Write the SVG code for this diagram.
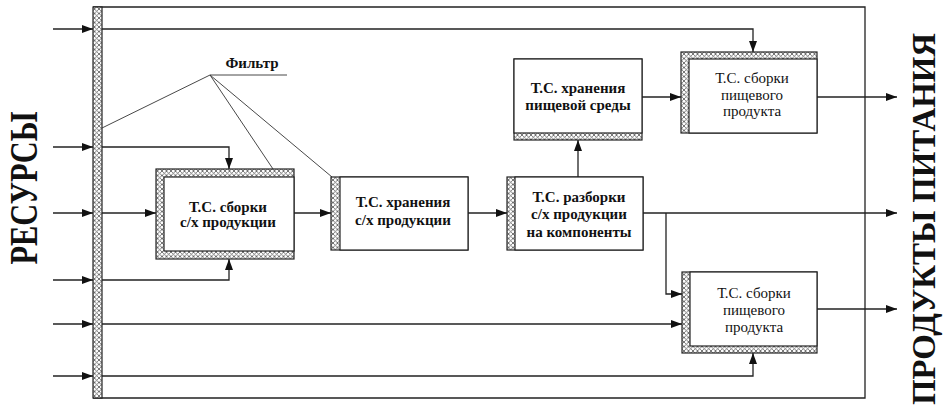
<svg xmlns="http://www.w3.org/2000/svg" width="946" height="417" viewBox="0 0 946 417">
<style>
.ln{fill:none;stroke:#222;stroke-width:1.3}
.fl{fill:none;stroke:#333;stroke-width:0.9}
.hb{fill:url(#hatch);stroke:#222;stroke-width:1.2}
.in{fill:#fff;stroke:#222;stroke-width:1.2}
.t{font-family:"Liberation Serif","Times New Roman",serif;font-size:15px;text-anchor:middle;fill:#111}
.b{font-weight:bold}
.big{font-family:"Liberation Serif","Times New Roman",serif;font-weight:bold;fill:#111;text-anchor:middle}
</style>
<defs>
<pattern id="hatch" width="4.5" height="4.5" patternUnits="userSpaceOnUse">
<rect width="4.5" height="4.5" fill="#fff"/>
<path d="M0,0 L4.5,4.5 M4.5,0 L0,4.5" stroke="#555" stroke-width="0.8"/>
</pattern>
<marker id="ar" markerWidth="12" markerHeight="8" refX="11" refY="4" orient="auto" markerUnits="userSpaceOnUse">
<path d="M0,0 L11,4 L0,8 Z" fill="#111"/>
</marker>
</defs>
<rect width="946" height="417" fill="#fff"/>

<g id="frame">
<path class="ln" d="M93,7 H865 V398 H93"/>
<rect class="hb" x="93" y="7" width="9" height="391"/>
</g>

<g id="connectors">
<path class="ln" d="M53,29 H93" marker-end="url(#ar)"/>
<path class="ln" d="M53,147 H93" marker-end="url(#ar)"/>
<path class="ln" d="M53,213 H93" marker-end="url(#ar)"/>
<path class="ln" d="M53,280 H93" marker-end="url(#ar)"/>
<path class="ln" d="M53,324 H93" marker-end="url(#ar)"/>
<path class="ln" d="M53,376 H93" marker-end="url(#ar)"/>
<path class="ln" d="M102,29 H753 V52" marker-end="url(#ar)"/>
<path class="ln" d="M102,147 H229 V169" marker-end="url(#ar)"/>
<path class="ln" d="M102,213 H156" marker-end="url(#ar)"/>
<path class="ln" d="M102,280 H229 V259" marker-end="url(#ar)"/>
<path class="ln" d="M102,324 H682" marker-end="url(#ar)"/>
<path class="ln" d="M102,376 H753 V353" marker-end="url(#ar)"/>
<path class="ln" d="M294,213 H331" marker-end="url(#ar)"/>
<path class="ln" d="M468,213 H507" marker-end="url(#ar)"/>
<path class="ln" d="M578,177 V140" marker-end="url(#ar)"/>
<path class="ln" d="M642,97 H681" marker-end="url(#ar)"/>
<path class="ln" d="M817,97 H897" marker-end="url(#ar)"/>
<path class="ln" d="M643,213 H897" marker-end="url(#ar)"/>
<path class="ln" d="M666,213 V294 H682" marker-end="url(#ar)"/>
<path class="ln" d="M817,309 H897" marker-end="url(#ar)"/>
<path class="fl" d="M287,75 H210 L102,128 M210,75 L273,169 M210,75 L332,177"/>
<text class="t b" x="252" y="68" font-size="14">Фильтр</text>
</g>

<g id="box1">
<rect class="hb" x="156" y="169" width="138" height="90"/>
<rect class="in" x="164" y="177" width="130" height="74"/>
<text class="t b" x="228" y="212">Т.С. сборки</text>
<text class="t b" x="228" y="227">с/х продукции</text>
</g>

<g id="box2">
<rect class="hb" x="331" y="177" width="137" height="73"/>
<rect class="in" x="340" y="177" width="128" height="73"/>
<text class="t b" x="403" y="207">Т.С. хранения</text>
<text class="t b" x="403" y="225">с/х продукции</text>
</g>

<g id="box3">
<rect class="hb" x="507" y="177" width="136" height="73"/>
<rect class="in" x="515" y="177" width="128" height="73"/>
<text class="t b" x="579" y="202">Т.С. разборки</text>
<text class="t b" x="579" y="219">с/х продукции</text>
<text class="t b" x="579" y="237">на компоненты</text>
</g>

<g id="box4">
<rect class="hb" x="514" y="59" width="128" height="81"/>
<rect class="in" x="514" y="59" width="128" height="74"/>
<text class="t b" x="578" y="93">Т.С. хранения</text>
<text class="t b" x="578" y="110">пищевой среды</text>
</g>

<g id="box5">
<rect class="hb" x="681" y="52" width="136" height="81"/>
<rect class="in" x="689" y="59" width="128" height="74"/>
<text class="t" x="752" y="83">Т.С. сборки</text>
<text class="t" x="752" y="100">пищевого</text>
<text class="t" x="752" y="116">продукта</text>
</g>

<g id="box6">
<rect class="hb" x="682" y="272" width="135" height="81"/>
<rect class="in" x="690" y="272" width="127" height="74"/>
<text class="t" x="754" y="298">Т.С. сборки</text>
<text class="t" x="754" y="315">пищевого</text>
<text class="t" x="754" y="332">продукта</text>
</g>

<g id="labels">
<text class="big" font-size="40" transform="translate(37,188) rotate(-90)" textLength="153" lengthAdjust="spacingAndGlyphs">РЕСУРСЫ</text>
<text class="big" font-size="33" transform="translate(935,219) rotate(-90)" textLength="372" lengthAdjust="spacingAndGlyphs">ПРОДУКТЫ ПИТАНИЯ</text>
</g>
</svg>
